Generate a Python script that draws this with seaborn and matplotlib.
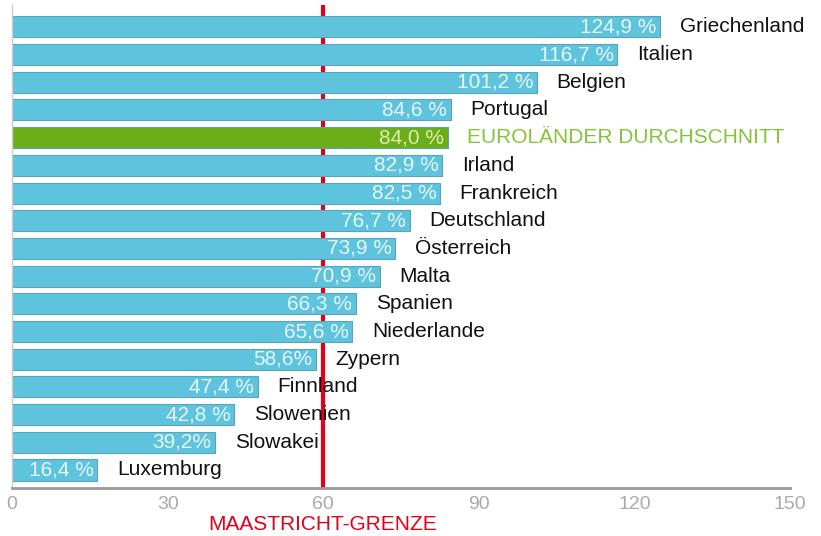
import matplotlib
matplotlib.use('Agg')
import matplotlib.pyplot as plt
import seaborn as sns
import pandas as pd

# Staatsschulden der Euro-Länder in % des BIP
laender = ['Griechenland', 'Italien', 'Belgien', 'Portugal', 'EUROLÄNDER DURCHSCHNITT',
           'Irland', 'Frankreich', 'Deutschland', 'Österreich', 'Malta', 'Spanien',
           'Niederlande', 'Zypern', 'Finnland', 'Slowenien', 'Slowakei', 'Luxemburg']
schulden = [124.9, 116.7, 101.2, 84.6, 84.0, 82.9, 82.5, 76.7, 73.9, 70.9, 66.3,
            65.6, 58.6, 47.4, 42.8, 39.2, 16.4]
wert_texte = ['124,9 %', '116,7 %', '101,2 %', '84,6 %', '84,0 %', '82,9 %', '82,5 %',
              '76,7 %', '73,9 %', '70,9 %', '66,3 %', '65,6 %', '58,6%', '47,4 %',
              '42,8 %', '39,2%', '16,4 %']
x_ticks = [0, 30, 60, 90, 120, 150]
grenze = 60
schnitt = 'EUROLÄNDER DURCHSCHNITT'

df = pd.DataFrame({'land': laender, 'wert': schulden})

blau = '#5ec4dd'
gruen = '#6cad1a'
rot = '#e3001b'
farben = {land: (gruen if land == schnitt else blau) for land in laender}

sns.set_style('white')
plt.rcParams['font.family'] = ['Liberation Sans', 'DejaVu Sans']

fig = plt.figure(figsize=(8.21, 5.36), dpi=100)
ax = fig.add_axes([12 / 821, 48 / 536, 778 / 821, 483 / 536])

# Maastricht-Grenze hinter den Balken
ax.axvline(grenze, color=rot, lw=3, zorder=0.5)

sns.barplot(data=df, y='land', x='wert', hue='land', palette=farben, orient='h',
            width=0.76, saturation=1, edgecolor='#5aa3b8', linewidth=0.8, ax=ax,
            legend=False, zorder=2)

for i, (land, wert, txt) in enumerate(zip(laender, schulden, wert_texte)):
    ist_schnitt = land == schnitt
    ax.text(wert - 0.7, i, txt, ha='right', va='center', fontsize=15,
            color='#d9f0a8' if ist_schnitt else '#e6f6fb', zorder=3)
    ax.text(wert + 3.8, i, land, ha='left', va='center', fontsize=15,
            color='#86c437' if ist_schnitt else '#111111', zorder=3, clip_on=False)

ax.set_xlim(0, 150)
ax.set_ylim(16.65, -0.79)
ax.set_xticks(x_ticks)
ax.set_xticklabels([str(t) for t in x_ticks])
ax.set_yticks([])
ax.set_xlabel('')
ax.set_ylabel('')
ax.tick_params(axis='x', direction='in', length=12, width=1, color='#999999',
               labelcolor='#aaaaaa', labelsize=14, pad=6)

for s in ['top', 'right']:
    ax.spines[s].set_visible(False)
ax.spines['bottom'].set_color('#999999')
ax.spines['bottom'].set_linewidth(2)
ax.spines['left'].set_color('#cccccc')
ax.spines['left'].set_linewidth(1)

fig.text(323 / 821, (536 - 525) / 536, 'MAASTRICHT-GRENZE', ha='center', va='center',
         color=rot, fontsize=15)

fig.savefig('out.png', dpi=100)
